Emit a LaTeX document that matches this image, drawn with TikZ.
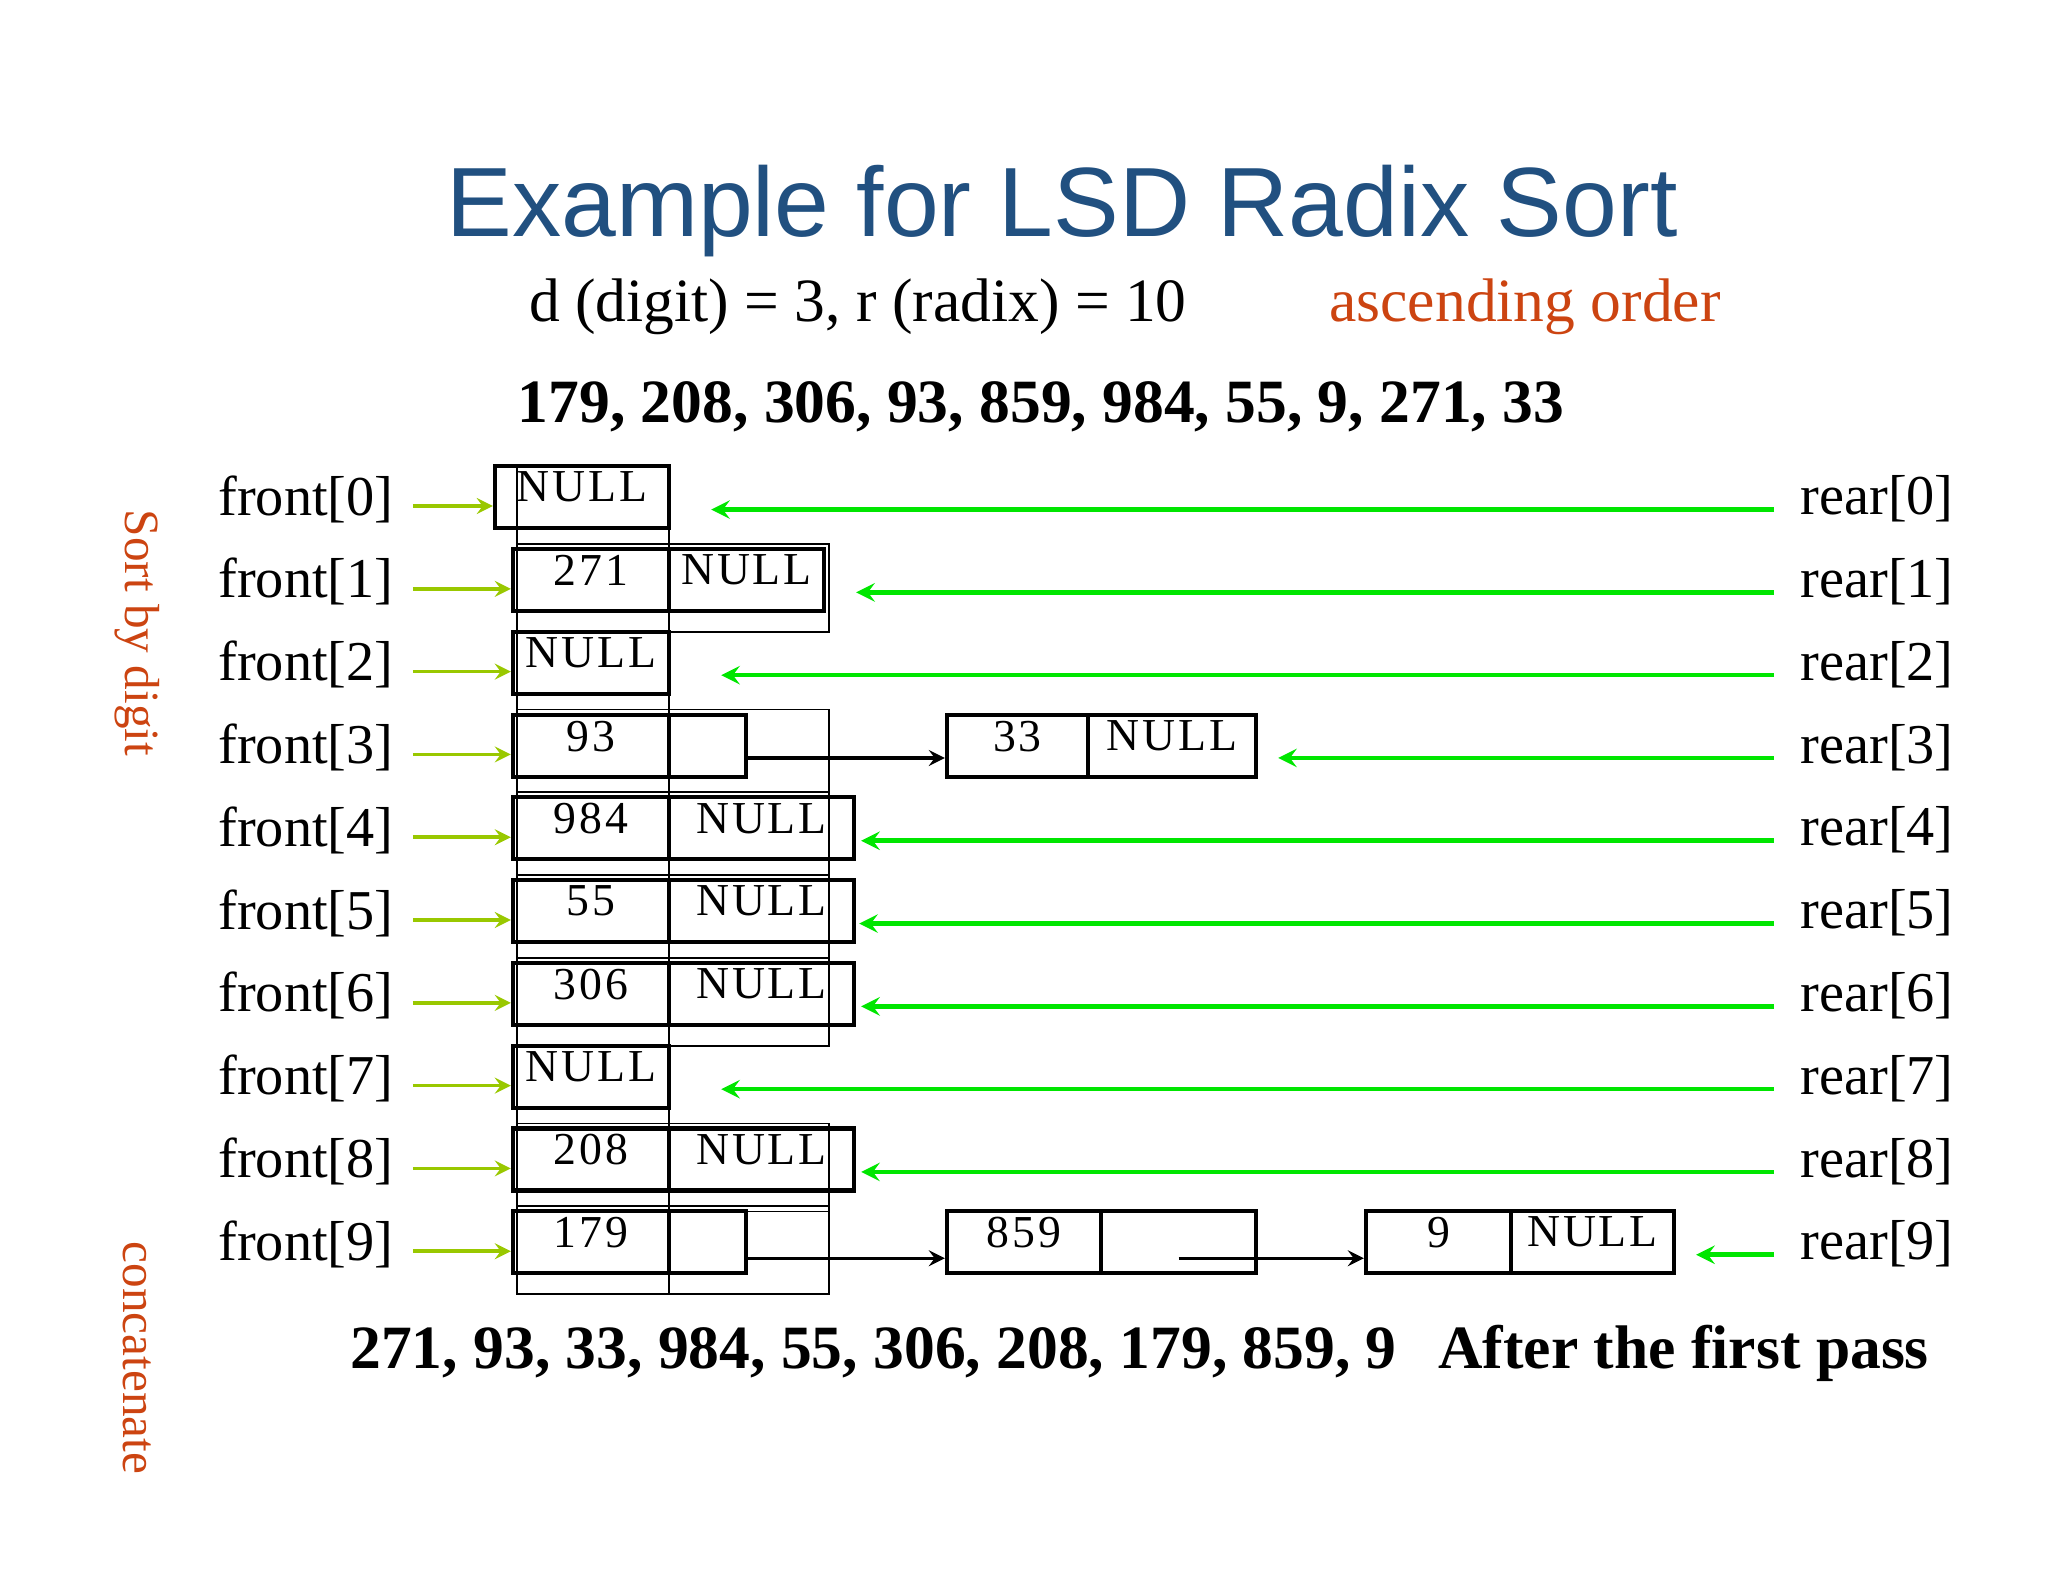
\documentclass[tikz,border=0pt]{standalone}
\usepackage{fontspec}
\setmainfont{Liberation Serif}
\newfontfamily\titlefont{Liberation Sans}
\usetikzlibrary{positioning}
\definecolor{titleblue}{RGB}{33,80,128}
\definecolor{notered}{RGB}{204,68,17}
\definecolor{frontgreen}{RGB}{153,200,0}
\definecolor{reargreen}{RGB}{0,230,0}
\tikzset{
  cell/.style={draw, line width=1.2pt, minimum height=0.62cm, inner sep=0pt,
    text depth=0.2cm, font=\addfontfeatures{LetterSpace=6}\fontsize{13}{13}\selectfont},
  ghost/.style={draw, line width=0.5pt},
  frontlbl/.style={anchor=west, font=\fontsize{16}{16}\selectfont},
  rearlbl/.style={anchor=east, font=\fontsize{16}{16}\selectfont},
  frontarrow/.style={draw=frontgreen, line width=1pt, -stealth},
  reararrow/.style={draw=reargreen, line width=1.3pt, -stealth},
  link/.style={draw, line width=1pt, -stealth}
}
\begin{document}
\begin{tikzpicture}[x=0.01cm, y=-0.01cm]
  \useasboundingbox (0,0) rectangle (2048,1582);

  % Title and header lines
  \node[text=titleblue, font=\titlefont\fontsize{28}{32}\selectfont] (title) at (1062,211) {Example for LSD Radix Sort};
  \node[font=\fontsize{17.5}{20}\selectfont] (param) at (858,307) {d (digit) = 3, r (radix) = 10};
  \node[text=notered, font=\fontsize{17.5}{20}\selectfont] (order) at (1525,307) {ascending order};
  \node[font=\bfseries\fontsize{17.5}{20}\selectfont] (input) at (1041,407) {179, 208, 306, 93, 859, 984, 55, 9, 271, 33};

  % Side notes
  \node[text=notered, rotate=-90, font=\fontsize{14}{16}\selectfont] (sortnote) at (137,633) {Sort by digit};
  \node[text=notered, rotate=-90, font=\fontsize{14}{16}\selectfont] (catnote) at (137,1358) {concatenate};

  % Row labels
  \foreach \i in {0,...,9}{
    \pgfmathsetmacro\y{499+82.8*\i}
    \node[frontlbl] (f\i) at (206,\y) {front[\i]};
    \node[rearlbl] (r\i) at (1966,\y) {rear[\i]};
  }

  % Ghost outlines
  \draw[ghost] (517,466) -- (517,1294);
  \draw[ghost] (669,466) -- (669,1294);
  \foreach \i in {1,3,4,5,6,8,9}{
    \pgfmathsetmacro\y{499+82.8*\i}
    \draw[ghost] (517,\y-38) rectangle (829,\y+50);
  }

  % Buckets
  \node[cell, minimum width=1.74cm] (k0) at (582,497) {NULL};
  \node[cell, minimum width=1.56cm] (k1) at (591,580) {271};
  \node[cell, minimum width=1.55cm] (l1) at (746.5,580) {NULL};
  \node[cell, minimum width=1.56cm] (k2) at (591,663) {NULL};
  \node[cell, minimum width=1.56cm] (k3) at (591,746) {93};
  \node[cell, minimum width=0.77cm] (l3) at (707.5,746) {};
  \node[cell, minimum width=1.41cm] (n3a) at (1017.5,746) {33};
  \node[cell, minimum width=1.68cm] (n3b) at (1172,746) {NULL};
  \foreach \i/\v in {4/984,5/55,6/306,8/208}{
    \pgfmathsetmacro\y{499+82.8*\i-2}
    \node[cell, minimum width=1.56cm] (k\i) at (591,\y) {\v};
    \node[cell, minimum width=1.85cm] (l\i) at (761.5,\y) {NULL};
  }
  \node[cell, minimum width=1.56cm] (k7) at (591,1077) {NULL};
  \node[cell, minimum width=1.56cm] (k9) at (591,1242) {179};
  \node[cell, minimum width=0.77cm] (l9) at (707.5,1242) {};
  \node[cell, minimum width=1.54cm] (m9) at (1024,1242) {859};
  \node[cell, minimum width=1.55cm] (m9l) at (1178.5,1242) {};
  \node[cell, minimum width=1.45cm] (n9) at (1438.5,1242) {9};
  \node[cell, minimum width=1.63cm] (n9l) at (1592.5,1242) {NULL};

  % Links
  \draw[link] ([yshift=-3pt]l3.east |- f3.east) -- ([yshift=-3pt]n3a.west |- f3.east);
  \draw[link] ([yshift=-4pt]l9.east |- f9.east) -- ([yshift=-4pt]m9.west |- f9.east);
  \draw[link] ([yshift=-4pt]m9l.center |- f9.east) -- ([yshift=-4pt]n9.west |- f9.east);

  % Front pointers
  \foreach \i in {0,...,9}{
    \draw[frontarrow] ([xshift=2pt,yshift=-2pt]f\i.east) -- ([yshift=-2pt]k\i.west |- f\i.east);
  }

  % Rear pointers
  \foreach \i/\t/\g in {0/k0/0.4,1/l1/0.3,2/k2/0.5,3/n3b/0.2,4/l4/0.05,5/l5/0.03,6/l6/0.05,7/k7/0.5,8/l8/0.05,9/n9l/0.2}{
    \draw[reararrow, shorten >=\g cm] ([xshift=-4pt,yshift=-3pt]r\i.west) -- ([yshift=-3pt]\t.east |- r\i.west);
  }

  % Result after the pass
  \node[anchor=west, font=\bfseries\fontsize{17.5}{20}\selectfont] (result) at (338,1353) {271, 93, 33, 984, 55, 306, 208, 179, 859, 9};
  \node[anchor=west, font=\bfseries\fontsize{17.5}{20}\selectfont] (pass) at (1426,1353) {After the first pass};
\end{tikzpicture}
\end{document}
